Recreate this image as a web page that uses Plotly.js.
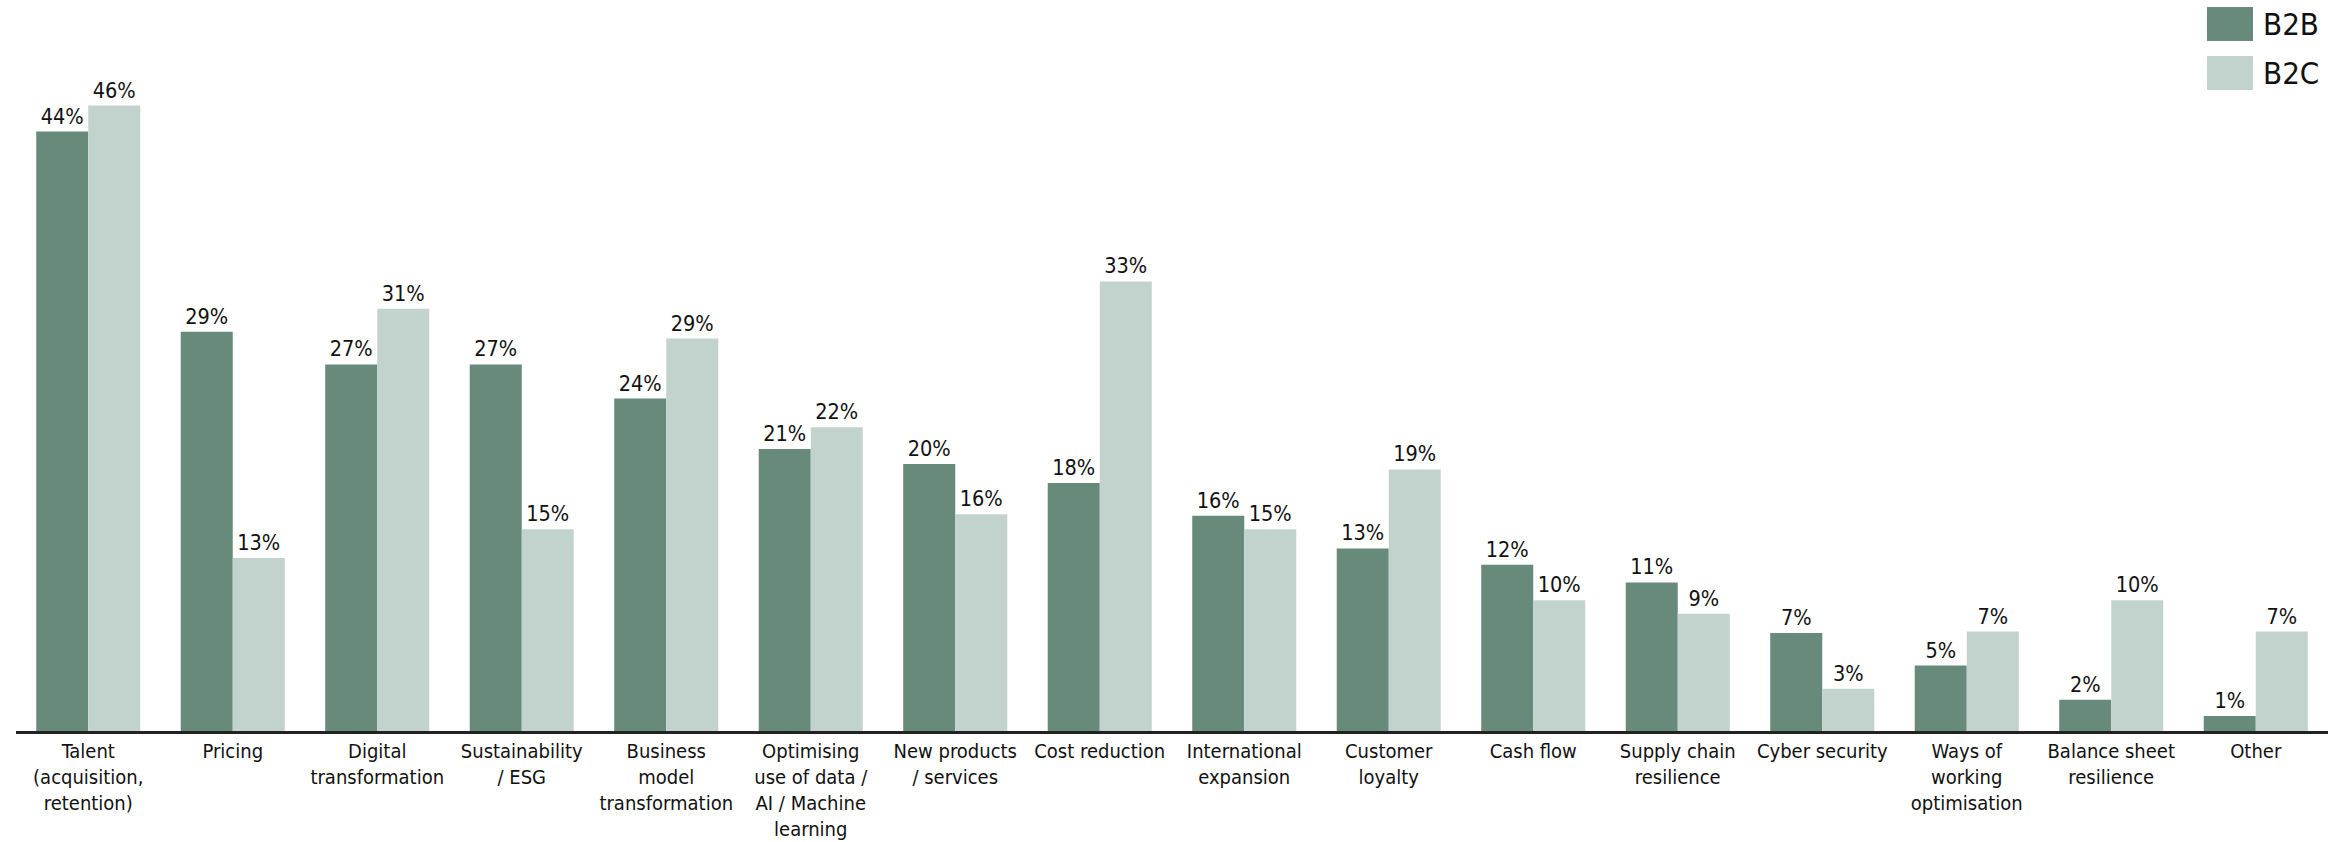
<!DOCTYPE html>
<html>
<head>
<meta charset="utf-8">
<script src="https://cdn.plot.ly/plotly-3.0.1.min.js"></script>
<style>
html,body{margin:0;padding:0;background:#fff;}
#chart{width:2343px;height:842px;}
</style>
</head>
<body>
<div id="chart"></div>
<script>
const categories = ["Talent (acquisition, retention)","Pricing","Digital transformation","Sustainability / ESG","Business model transformation","Optimising use of data / AI / Machine learning","New products / services","Cost reduction","International expansion","Customer loyalty","Cash flow","Supply chain resilience","Cyber security","Ways of working optimisation","Balance sheet resilience","Other"];
const tickLabels = ["Talent<br>(acquisition,<br>retention)","Pricing","Digital<br>transformation","Sustainability<br>/ ESG","Business<br>model<br>transformation","Optimising<br>use of data /<br>AI / Machine<br>learning","New products<br>/ services","Cost reduction","International<br>expansion","Customer<br>loyalty","Cash flow","Supply chain<br>resilience","Cyber security","Ways of<br>working<br>optimisation","Balance sheet<br>resilience","Other"];
const b2b = [44.0,29.3,26.9,26.9,24.4,20.7,19.6,18.2,15.8,13.4,12.2,10.9,7.2,4.8,2.3,1.1];
const b2c = [45.9,12.7,31.0,14.8,28.8,22.3,15.9,33.0,14.8,19.2,9.6,8.6,3.1,7.3,9.6,7.3];
const seriesNames = ["B2B","B2C"];

const FONT = "'DejaVu Sans Condensed', 'DejaVu Sans', sans-serif";
const C1 = "#678a7b", C2 = "#c2d3cd";

const traces = [
  {type:"bar", name:seriesNames[0], x:categories, y:b2b, marker:{color:C1},
   texttemplate:"%{y:.0f}%", textposition:"outside", cliponaxis:false,
   textfont:{family:FONT,size:21.5,color:"#111"}, hoverinfo:"skip"},
  {type:"bar", name:seriesNames[1], x:categories, y:b2c, marker:{color:C2},
   texttemplate:"%{y:.0f}%", textposition:"outside", cliponaxis:false,
   textfont:{family:FONT,size:21.5,color:"#111"}, hoverinfo:"skip"}
];

const L = 16, R = 2328, T = 77, B = 731;
const W = R - L, H = B - T;
const px = v => (v - L) / W;
const py = v => (B - v) / H;

const layout = {
  width:2343, height:842,
  margin:{l:L, r:2343-R, t:T, b:842-B, pad:0},
  paper_bgcolor:"#fff", plot_bgcolor:"#fff",
  barmode:"group", bargap:0.28, bargroupgap:0,
  showlegend:false,
  font:{family:FONT, size:20, color:"#111"},
  xaxis:{tickvals:categories, ticktext:tickLabels, showgrid:false, zeroline:false,
         showline:true, linecolor:"#222", linewidth:2.5, ticks:"", tickfont:{family:FONT,size:20,color:"#111"},
         range:[-0.5,15.5], fixedrange:true, tickangle:0},
  yaxis:{range:[0,48], visible:false, showgrid:false, zeroline:false, fixedrange:true},
  shapes:[
    {type:"rect", xref:"paper", yref:"paper", x0:px(2207), x1:px(2253), y0:py(41), y1:py(7), fillcolor:C1, line:{width:0}},
    {type:"rect", xref:"paper", yref:"paper", x0:px(2207), x1:px(2253), y0:py(90), y1:py(56), fillcolor:C2, line:{width:0}}
  ],
  annotations:[
    {xref:"paper", yref:"paper", x:px(2261), y:py(24), xanchor:"left", yanchor:"middle", text:seriesNames[0], showarrow:false, font:{family:FONT,size:31,color:"#111"}},
    {xref:"paper", yref:"paper", x:px(2261), y:py(73), xanchor:"left", yanchor:"middle", text:seriesNames[1], showarrow:false, font:{family:FONT,size:31,color:"#111"}}
  ]
};

Plotly.newPlot("chart", traces, layout, {displayModeBar:false, staticPlot:true});
</script>
</body>
</html>
